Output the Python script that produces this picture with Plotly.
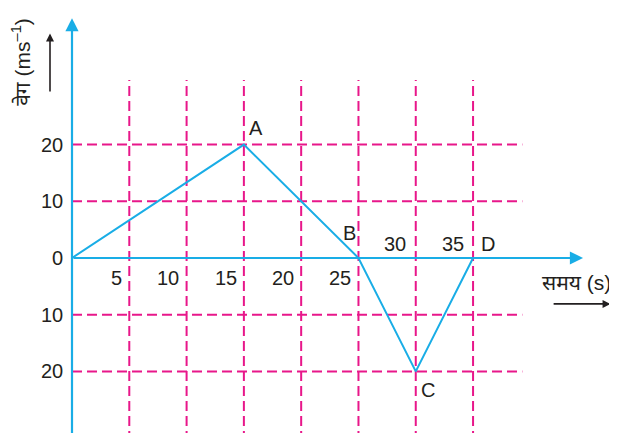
import plotly.graph_objects as go

# velocity-time data
time_s = [0, 15, 25, 30, 35]
velocity = [0, 20, 0, -20, 0]
point_names = ["", "A", "B", "C", "D"]

x_grid = [5, 10, 15, 20, 25, 30, 35]
y_grid = [20, 10, -10, -20]
y_tick_vals = [20, 10, 0, -10, -20]
y_tick_text = ["20", "10", "0", "10", "20"]
x_ticks_below = [5, 10, 15, 20, 25]
x_ticks_above = [30, 35]

BLUE = "#19ade6"
PINK = "#e8178a"
INK = "#231f20"
FONT = "Liberation Sans, Arial, Noto Sans, sans-serif"

# page has an 8px body margin, so ranges are shifted to compensate
X0, X1 = -5.585, 48.26
Y0, Y1 = -32.28, 44.09

fig = go.Figure()

# dashed grid
shapes = []
for gx in x_grid:
    shapes.append(dict(type="line", x0=gx, x1=gx, y0=Y0, y1=31.4, xref="x", yref="y",
                       line=dict(color=PINK, width=2, dash="10px,5px"), layer="below"))
for gy in y_grid:
    shapes.append(dict(type="line", x0=0, x1=39.3, y0=gy, y1=gy, xref="x", yref="y",
                       line=dict(color=PINK, width=2, dash="10px,5px"), layer="below"))
fig.update_layout(shapes=shapes)

fig.add_trace(go.Scatter(x=time_s, y=velocity, mode="lines",
                         line=dict(color=BLUE, width=2), hoverinfo="skip"))

ann = []
# axes with arrowheads
ann.append(dict(x=0, y=42.3, ax=0, ay=Y0, xref="x", yref="y", axref="x", ayref="y",
                showarrow=True, arrowhead=2, arrowsize=1.2, arrowwidth=2.2, arrowcolor=BLUE, text=""))
ann.append(dict(x=44.6, y=0, ax=0, ay=0, xref="x", yref="y", axref="x", ayref="y",
                showarrow=True, arrowhead=2, arrowsize=1.2, arrowwidth=2.2, arrowcolor=BLUE, text=""))
# black direction arrows next to axis titles
ann.append(dict(x=-1.92, y=39.6, ax=-1.92, ay=29.1, xref="x", yref="y", axref="x", ayref="y",
                showarrow=True, arrowhead=2, arrowsize=1, arrowwidth=1.6, arrowcolor=INK, text=""))
ann.append(dict(x=47.0, y=-8.1, ax=41.9, ay=-8.1, xref="x", yref="y", axref="x", ayref="y",
                showarrow=True, arrowhead=2, arrowsize=1, arrowwidth=1.6, arrowcolor=INK, text=""))

tick_font = dict(family=FONT, size=20, color=INK)
for v, t in zip(y_tick_vals, y_tick_text):
    ann.append(dict(x=-0.6, y=v, text=t, xref="x", yref="y", showarrow=False,
                    xanchor="right", yanchor="middle", font=tick_font))
for v in x_ticks_below:
    ann.append(dict(x=v - 0.45, y=-3.5, text=str(v), xref="x", yref="y", showarrow=False,
                    xanchor="right", yanchor="middle", font=tick_font))
for v in x_ticks_above:
    ann.append(dict(x=v - 0.65, y=2.5, text=str(v), xref="x", yref="y", showarrow=False,
                    xanchor="right", yanchor="middle", font=tick_font))

# point labels
offsets = {"A": (1.1, 2.9), "B": (-0.8, 4.4), "C": (1.1, -3.3), "D": (1.3, 2.5)}
for x, y, n in zip(time_s, velocity, point_names):
    if n:
        dx, dy = offsets[n]
        ann.append(dict(x=x + dx, y=y + dy, text=n, xref="x", yref="y", showarrow=False,
                        xanchor="center", yanchor="middle", font=tick_font))

# axis titles
ann.append(dict(x=-4.45, y=34.6, text="वेग (ms<sup>–1</sup>)", textangle=-90, xref="x", yref="y",
                showarrow=False, xanchor="center", yanchor="middle",
                font=dict(family=FONT, size=21, color=INK)))
ann.append(dict(x=44.0, y=-4.4, text="समय (s)", xref="x", yref="y",
                showarrow=False, xanchor="center", yanchor="middle",
                font=dict(family=FONT, size=21, color=INK)))

fig.update_layout(
    annotations=ann,
    width=617, height=433,
    margin=dict(l=0, r=0, t=0, b=0),
    plot_bgcolor="white", paper_bgcolor="white",
    showlegend=False,
    xaxis=dict(range=[X0, X1], visible=False, fixedrange=True),
    yaxis=dict(range=[Y0, Y1], visible=False, fixedrange=True),
)

fig.write_html("out.html")
